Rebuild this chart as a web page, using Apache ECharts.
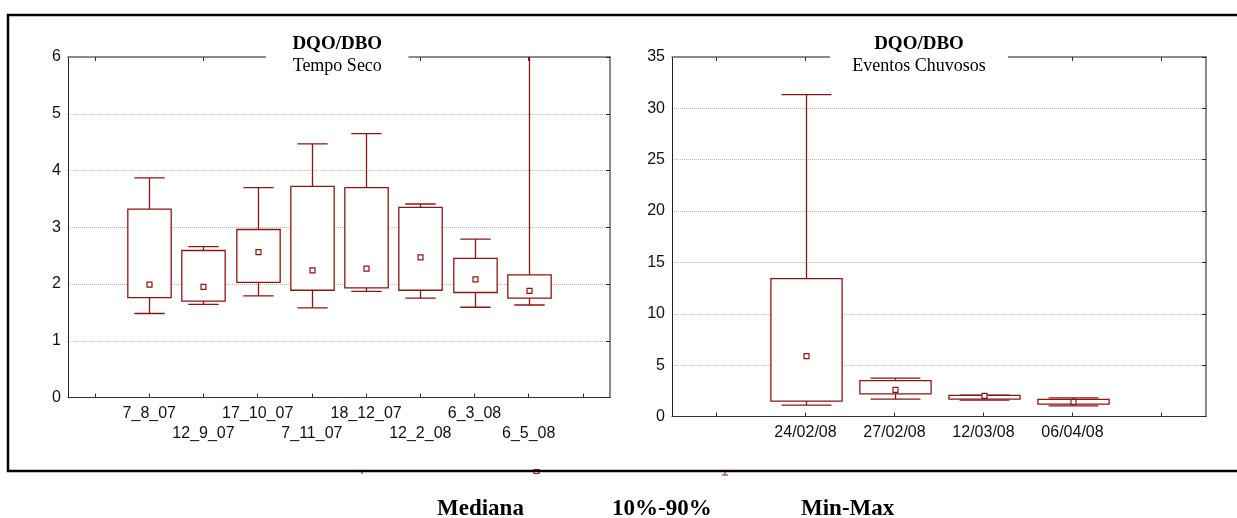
<!DOCTYPE html>
<html>
<head>
<meta charset="utf-8">
<script src="https://cdn.jsdelivr.net/npm/echarts@6/dist/echarts.min.js"></script>
<style>
html,body{margin:0;padding:0;background:#fff;}
#chart{width:1237px;height:518px;}
</style>
</head>
<body>
<div id="chart"></div>
<script>
// ---- Data ----
const leftCats = ['', '7_8_07', '12_9_07', '17_10_07', '7_11_07', '18_12_07', '12_2_08', '6_3_08', '6_5_08', ''];
const leftMin  = [1.48, 1.64, 1.79, 1.58, 1.87, 1.75, 1.59, 1.63];
const leftP10  = [1.76, 1.70, 2.03, 1.89, 1.93, 1.89, 1.85, 1.75];
const leftMed  = [1.99, 1.95, 2.56, 2.24, 2.27, 2.47, 2.08, 1.88];
const leftP90  = [3.32, 2.59, 2.96, 3.72, 3.70, 3.35, 2.45, 2.16];
const leftMax  = [3.87, 2.66, 3.70, 4.47, 4.65, 3.41, 2.79, 6.90];

const rightCats = ['', '24/02/08', '27/02/08', '12/03/08', '06/04/08', ''];
const rightMin  = [1.11, 1.69, 1.60, 1.04];
const rightP10  = [1.50, 2.21, 1.69, 1.21];
const rightMed  = [5.88, 2.60, 2.01, 1.43];
const rightP90  = [13.43, 3.50, 2.06, 1.66];
const rightMax  = [31.34, 3.74, 2.08, 1.82];

const leftYTicks = {min: 0, max: 6, interval: 1};
const rightYTicks = {min: 0, max: 35, interval: 5};
const legendLabels = ['Mediana', '10%-90%', 'Min-Max'];
const titleMain = 'DQO/DBO';
const subLeft = 'Tempo Seco';
const subRight = 'Eventos Chuvosos';

// ---- Helpers ----
const RED = '#8b1414';
function buildRows(mins, p10, med, p90, maxs) {
  return mins.map((v, i) => [i + 1, v, p10[i], med[i], p90[i], maxs[i]]);
}
function renderBox(params, api) {
  const x = api.value(0);
  const band = api.size([1, 0])[0];
  const bw = band * 0.8, cw = band * 0.56;
  const pMin = api.coord([x, api.value(1)]);
  const pQ1 = api.coord([x, api.value(2)]);
  const pMed = api.coord([x, api.value(3)]);
  const pQ3 = api.coord([x, api.value(4)]);
  const pMax = api.coord([x, api.value(5)]);
  const cx = Math.round(pMin[0]) + 0.5;
  const st = {stroke: RED, lineWidth: 1.3, fill: null};
  return {
    type: 'group',
    children: [
      {type: 'line', shape: {x1: cx, y1: pQ3[1], x2: cx, y2: pMax[1]}, style: st},
      {type: 'line', shape: {x1: cx, y1: pQ1[1], x2: cx, y2: pMin[1]}, style: st},
      {type: 'line', shape: {x1: cx - cw / 2, y1: pMax[1], x2: cx + cw / 2, y2: pMax[1]}, style: st},
      {type: 'line', shape: {x1: cx - cw / 2, y1: pMin[1], x2: cx + cw / 2, y2: pMin[1]}, style: st},
      {type: 'rect', shape: {x: cx - bw / 2, y: pQ3[1], width: bw, height: pQ1[1] - pQ3[1]}, style: {stroke: RED, lineWidth: 1.3, fill: '#fff'}},
      {type: 'rect', shape: {x: cx - 2.5, y: pMed[1] - 2.5, width: 5, height: 5}, style: {stroke: RED, lineWidth: 1.2, fill: '#fff'}}
    ]
  };
}
function xAxes(gridIndex, cats, twoRows) {
  return [
    {
      type: 'category', gridIndex: gridIndex, data: cats, position: 'bottom',
      boundaryGap: true,
      axisLine: {onZero: false, lineStyle: {color: '#333', width: 1}},
      axisTick: {show: true, inside: true, alignWithLabel: true, length: 4, lineStyle: {color: '#333'}},
      axisLabel: {
        interval: 0, margin: 6, color: '#111', fontFamily: 'Liberation Sans, Arial', fontSize: 16, lineHeight: 20,
        formatter: function (v, i) { return (twoRows && i % 2 === 0) ? '\n' + v : v; }
      },
      splitLine: {show: false}
    },
    {
      type: 'category', gridIndex: gridIndex, data: cats, position: 'top',
      boundaryGap: true,
      axisLine: {onZero: false, lineStyle: {color: '#666', width: 1.5}},
      axisTick: {show: true, inside: true, alignWithLabel: true, length: 4, lineStyle: {color: '#333'}},
      axisLabel: {show: false},
      splitLine: {show: false}
    }
  ];
}
function yAxes(gridIndex, t) {
  return [
    {
      type: 'value', gridIndex: gridIndex, position: 'left', min: t.min, max: t.max, interval: t.interval,
      axisLine: {show: true, onZero: false, lineStyle: {color: '#222', width: 1}},
      axisTick: {show: false},
      axisLabel: {margin: 7, color: '#111', fontFamily: 'Liberation Sans, Arial', fontSize: 16},
      splitLine: {show: true, showMinLine: false, showMaxLine: false, lineStyle: {color: '#b8b8b8', type: [1, 1], width: 1}}
    },
    {
      type: 'value', gridIndex: gridIndex, position: 'right', min: t.min, max: t.max, interval: t.interval,
      axisLine: {show: true, onZero: false, lineStyle: {color: '#666', width: 1.5}},
      axisTick: {show: true, inside: true, length: 4, lineStyle: {color: '#222'}},
      axisLabel: {show: false},
      splitLine: {show: false}
    }
  ];
}

const chart = echarts.init(document.getElementById('chart'), null, {renderer: 'canvas'});
const xa = xAxes(0, leftCats, true).concat(xAxes(1, rightCats, false));
const ya = yAxes(0, leftYTicks).concat(yAxes(1, rightYTicks));

function titleGraphics(boxX, boxW, sub) {
  const cx = boxX + boxW / 2;
  return [
    {type: 'rect', z: 100, shape: {x: boxX, y: 30, width: boxW, height: 46}, style: {fill: '#fff'}},
    {type: 'text', z: 101, x: cx, y: 44, style: {text: titleMain, fill: '#000', font: 'bold 19px "Liberation Serif", "Times New Roman", serif', align: 'center', verticalAlign: 'middle'}},
    {type: 'text', z: 101, x: cx, y: 66, style: {text: sub, fill: '#000', font: '18px "Liberation Serif", "Times New Roman", serif', align: 'center', verticalAlign: 'middle'}}
  ];
}

const LEG_FONT = 'bold 23px "Liberation Serif", "Times New Roman", serif';
const graphics = []
  .concat(titleGraphics(266, 142.5, subLeft))
  .concat(titleGraphics(830, 178, subRight))
  .concat([
    // legend icon remnants under the frame
    {type: 'rect', z: 90, shape: {x: 361, y: 471, width: 2, height: 3}, style: {fill: '#c77'}},
    {type: 'rect', z: 90, shape: {x: 534, y: 469.5, width: 5, height: 4}, style: {stroke: RED, lineWidth: 1.2, fill: '#fff'}},
    {type: 'line', z: 90, shape: {x1: 725, y1: 470, x2: 725, y2: 475}, style: {stroke: RED, lineWidth: 1}},
    {type: 'line', z: 90, shape: {x1: 722, y1: 475, x2: 728, y2: 475}, style: {stroke: RED, lineWidth: 1}},
    // outer frame
    {type: 'polyline', z: 95, shape: {points: [[1240, 15], [8, 15], [8, 471], [1240, 471]]}, style: {stroke: '#000', lineWidth: 2.5, fill: null}},
    // legend labels
    {type: 'text', z: 101, x: 437, y: 509, style: {text: legendLabels[0], fill: '#000', font: LEG_FONT, align: 'left', verticalAlign: 'middle'}},
    {type: 'text', z: 101, x: 612, y: 509, style: {text: legendLabels[1], fill: '#000', font: LEG_FONT, align: 'left', verticalAlign: 'middle'}},
    {type: 'text', z: 101, x: 801, y: 509, style: {text: legendLabels[2], fill: '#000', font: LEG_FONT, align: 'left', verticalAlign: 'middle'}}
  ]);

chart.setOption({
  animation: false,
  backgroundColor: '#fff',
  grid: [
    {left: 68, top: 57, width: 542, height: 340.5, containLabel: false, outerBoundsMode: 'none'},
    {left: 672, top: 57, width: 534, height: 359.5, containLabel: false, outerBoundsMode: 'none'}
  ],
  xAxis: xa,
  yAxis: ya,
  series: [
    {type: 'custom', xAxisIndex: 0, yAxisIndex: 0, clip: true, renderItem: renderBox,
     encode: {x: 0, y: [1, 2, 3, 4, 5]}, data: buildRows(leftMin, leftP10, leftMed, leftP90, leftMax), z: 5},
    {type: 'custom', xAxisIndex: 2, yAxisIndex: 2, clip: true, renderItem: renderBox,
     encode: {x: 0, y: [1, 2, 3, 4, 5]}, data: buildRows(rightMin, rightP10, rightMed, rightP90, rightMax), z: 5}
  ],
  graphic: graphics
});
</script>
</body>
</html>
